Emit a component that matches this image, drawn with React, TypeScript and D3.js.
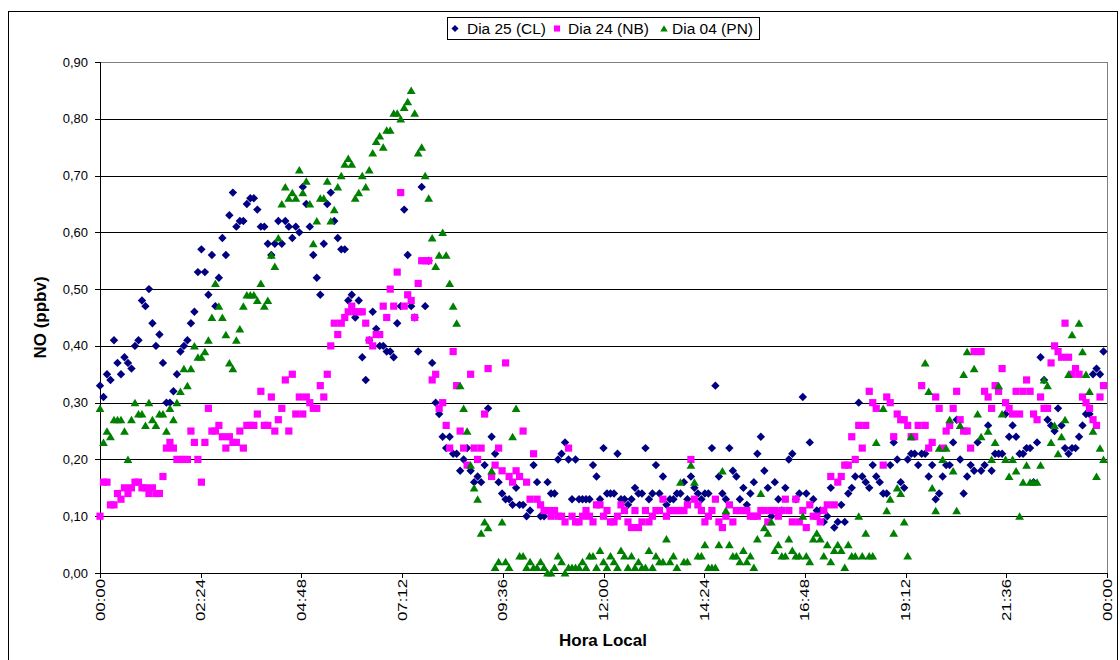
import React from 'react';
import * as d3 from 'd3';

// ---- data (NO, ppbv), one value every 5 minutes from 00:00 to 23:55 ----
const SAMPLE_MINUTES = 5;

const seriesNames = ['Dia 25 (CL)', 'Dia 24 (NB)', 'Dia 04 (PN)'];

const dia25CL: (number | null)[] = [
  0.33,0.31,0.35,0.34,0.41,0.37,0.35,0.38,0.37,0.36,0.40,0.41,
  0.48,0.47,0.50,0.44,0.40,0.42,0.37,0.30,0.30,0.32,0.35,0.39,
  0.40,0.41,0.44,0.46,0.53,0.57,0.53,0.49,0.56,0.47,0.52,0.59,
  0.56,0.63,0.67,0.61,0.62,0.62,0.65,0.66,0.66,0.64,0.61,0.61,
  0.58,0.56,0.58,0.62,0.58,0.62,0.61,0.59,0.61,0.60,0.68,0.65,
  0.61,0.56,0.52,0.49,0.58,0.65,0.67,0.62,0.59,0.57,0.57,0.48,
  0.49,0.45,0.48,0.38,0.34,0.41,0.46,0.43,0.40,0.40,0.39,0.39,
  0.38,0.44,0.47,0.64,0.56,0.47,0.45,0.39,0.68,0.47,0.55,0.37,
  0.30,0.28,0.24,0.22,0.24,0.21,0.21,0.18,0.20,0.22,0.18,0.16,
  0.17,0.16,0.19,0.29,0.24,0.21,0.16,0.14,0.13,0.13,0.12,0.15,
  0.12,0.12,0.10,0.11,0.19,0.16,0.10,0.10,0.16,0.14,0.14,0.20,
  0.21,0.23,0.20,0.13,0.20,0.13,0.13,0.13,0.13,0.19,0.17,0.13,
  0.22,0.14,0.14,0.14,0.21,0.13,0.13,0.12,0.13,0.15,0.14,0.14,
  0.22,0.13,0.14,0.19,0.14,0.17,0.12,0.13,0.13,0.14,0.14,0.16,
  0.13,0.17,0.15,0.14,0.13,0.14,0.14,0.22,0.33,0.17,0.14,0.13,
  0.22,0.18,0.17,0.13,0.15,0.12,0.14,0.16,0.21,0.24,0.18,0.15,
  0.10,0.16,0.13,0.11,0.15,0.20,0.21,0.13,0.14,0.31,0.14,0.23,
  0.13,0.11,0.11,0.09,0.10,0.15,0.08,0.09,0.12,0.09,0.14,0.15,
  0.17,0.30,0.17,0.16,0.15,0.19,0.17,0.16,0.14,0.14,0.19,0.23,
  0.20,0.16,0.15,0.20,0.21,0.21,0.19,0.21,0.21,0.17,0.19,0.13,
  0.14,0.17,0.19,0.19,0.23,0.27,0.20,0.14,0.17,0.19,0.18,0.23,
  0.18,0.19,0.26,0.18,0.21,0.21,0.21,0.28,0.24,0.26,0.24,0.21,
  0.21,0.22,0.22,0.16,0.23,0.38,0.34,0.27,0.26,0.25,0.29,0.26,
  0.22,0.21,0.22,0.22,0.24,0.26,0.28,0.28,0.35,0.36,0.35,0.39,
];

const dia24NB: (number | null)[] = [
  0.10,0.16,0.16,0.12,0.12,0.14,0.13,0.15,0.14,0.15,0.16,0.16,
  0.15,0.15,0.14,0.15,0.14,0.14,0.17,0.22,0.23,0.22,0.20,0.20,
  0.20,0.20,0.25,0.23,0.20,0.16,0.23,0.29,0.25,0.25,0.26,0.24,
  0.22,0.24,0.23,0.23,0.25,0.22,0.26,0.26,0.26,0.28,0.32,0.26,
  0.26,0.31,0.25,0.27,0.29,0.34,0.25,0.35,0.28,0.31,0.28,0.31,
  0.30,0.29,0.29,0.33,0.31,0.35,0.40,0.44,0.42,0.44,0.45,0.46,
  0.47,0.46,0.46,0.46,0.44,0.41,0.40,0.42,0.42,0.47,0.45,0.50,
  0.47,0.53,0.67,0.47,0.49,0.48,0.45,0.51,0.55,0.55,0.55,0.34,
  0.35,0.29,0.30,0.26,0.22,0.39,0.33,0.25,0.22,0.19,0.35,0.22,
  0.20,0.22,0.28,0.36,0.17,0.19,0.22,0.18,0.37,0.17,0.16,0.18,
  0.17,0.25,0.16,0.13,0.21,0.13,0.12,0.11,0.11,0.10,0.11,0.10,
  0.10,0.09,0.22,0.10,0.09,0.09,0.10,0.11,0.10,0.09,0.12,0.12,
  0.10,0.11,0.09,0.09,0.10,0.12,0.11,0.09,0.08,0.11,0.08,0.09,
  0.11,0.09,0.10,0.11,0.11,0.13,0.10,0.11,0.11,0.11,0.11,0.11,
  0.12,0.20,0.13,0.12,0.11,0.09,0.10,0.11,0.13,0.09,0.08,0.10,
  0.12,0.09,0.11,0.11,0.11,0.11,0.10,0.10,0.10,0.11,0.11,0.09,
  0.11,0.11,0.10,0.11,0.13,0.11,0.09,0.13,0.09,0.11,0.08,0.12,
  0.10,0.10,0.09,0.11,0.12,0.17,0.12,0.16,0.17,0.19,0.19,0.24,
  0.20,0.26,0.22,0.26,0.32,0.30,0.29,null,0.19,0.31,0.30,0.24,
  0.28,0.27,0.27,0.26,0.24,0.24,0.26,0.33,0.26,0.22,0.23,0.31,
  0.29,0.22,0.25,0.26,0.29,0.32,0.27,0.25,0.25,0.22,0.39,0.39,
  0.39,0.32,0.31,0.29,0.33,0.32,0.36,0.30,0.29,0.28,0.32,0.28,
  0.32,0.34,0.32,0.28,0.27,0.31,0.29,0.29,0.37,0.40,0.39,0.38,
  0.44,0.38,0.35,0.36,0.35,0.31,0.30,0.29,0.27,0.26,0.31,0.33,
];

const dia04PN: (number | null)[] = [
  0.29,0.23,0.25,0.24,0.27,0.27,0.27,0.25,0.20,0.27,0.30,0.28,
  0.28,0.26,0.30,0.27,0.26,0.28,0.28,0.25,0.29,0.27,0.30,0.32,
  0.36,0.33,0.36,0.40,0.38,0.38,0.39,0.41,0.45,0.51,0.47,0.45,
  0.42,0.37,0.36,0.41,0.43,0.47,0.49,0.49,0.49,0.48,0.51,0.47,
  0.48,0.56,0.54,0.59,0.65,0.68,0.66,0.67,0.66,0.71,0.67,0.69,
  0.65,0.58,0.62,0.66,0.66,0.69,0.62,0.64,0.68,0.70,0.72,0.73,
  0.72,0.66,0.67,0.70,0.68,0.71,0.74,0.76,0.77,0.75,0.78,0.78,
  0.81,0.81,0.80,0.82,0.83,0.85,0.81,0.74,0.75,0.70,0.66,0.59,
  0.54,0.56,0.60,0.56,0.51,0.47,0.44,0.33,0.29,0.25,0.19,0.15,
  0.13,0.07,0.09,0.08,0.18,0.01,0.02,0.09,0.02,0.01,0.24,0.29,
  0.03,0.03,0.01,0.02,0.01,0.01,0.02,0.01,0.00,0.00,0.01,0.03,
  0.02,0.00,0.01,0.01,0.01,0.01,0.02,0.01,0.03,0.03,0.01,0.04,
  0.02,0.01,0.03,0.02,0.01,0.04,0.03,0.01,0.03,0.01,0.02,0.01,
  0.01,0.04,0.01,0.03,0.02,0.02,0.06,0.02,0.03,0.01,0.16,0.02,
  0.02,0.19,0.16,0.03,0.03,0.05,0.01,0.01,0.01,0.05,0.18,0.11,
  0.05,0.03,0.03,0.02,0.04,0.02,0.03,0.01,0.06,0.14,0.08,0.07,
  0.09,0.04,0.05,0.03,0.03,0.06,0.04,0.03,0.03,0.10,0.03,0.02,
  0.06,0.07,0.06,0.03,0.05,0.02,0.04,0.05,0.04,0.01,0.05,0.03,
  0.03,0.10,0.03,0.07,0.03,0.03,0.23,null,0.29,0.11,0.13,0.07,
  0.15,0.14,0.09,0.03,0.24,null,null,null,0.37,0.32,0.15,0.11,
  0.22,0.20,0.22,0.27,0.18,0.11,0.26,0.35,0.39,null,0.36,0.28,
  0.24,null,0.25,0.20,0.23,0.33,0.28,0.20,0.17,0.20,0.18,0.10,
  0.16,0.19,0.16,0.16,0.16,0.19,0.34,0.33,0.23,0.26,0.21,0.24,
  0.27,0.35,0.42,null,0.44,0.39,0.35,0.32,0.25,0.17,0.22,0.20,
];

const xTickMinutes = [0, 144, 288, 432, 576, 720, 864, 1008, 1152, 1296, 1440];
const xTickLabels = ['00:00', '02:24', '04:48', '07:12', '09:36', '12:00', '14:24', '16:48', '19:12', '21:36', '00:00'];
const yTickValues = [0, 0.1, 0.2, 0.3, 0.4, 0.5, 0.6, 0.7, 0.8, 0.9];
const yTickLabels = ['0,00', '0,10', '0,20', '0,30', '0,40', '0,50', '0,60', '0,70', '0,80', '0,90'];

// ---- styling ----
const FONT = '"Liberation Sans", Arial, Helvetica, sans-serif';
const colors = ['#000080', '#FF00FF', '#008000'];
const markerPaths = [
  'M0,-4.2L4.2,0L0,4.2L-4.2,0Z',
  'M-3.6,-3.6H3.6V3.6H-3.6Z',
  'M0,-3.9L4.4,3.6L-4.4,3.6Z',
];

const W = 1120;
const H = 660;
const plot = { left: 100, right: 1107, top: 62, bottom: 573 };

export default function App() {
  const x = d3.scaleLinear().domain([0, 1440]).range([plot.left, plot.right]);
  const y = d3.scaleLinear().domain([0, 0.9]).range([plot.bottom, plot.top]);

  const allSeries = [dia25CL, dia24NB, dia04PN];

  const legendItems = [
    { marker: 455, text: 467, len: 79 },
    { marker: 557, text: 568, len: 81 },
    { marker: 664, text: 672, len: 81 },
  ];

  return (
    <svg
      width={W}
      height={H}
      style={{ position: 'absolute', left: 0, top: 0, display: 'block', background: '#fff' }}
      fontFamily={FONT}
    >
      <rect x={0} y={0} width={W} height={H} fill="#fff" />
      {/* chart border */}
      <rect x={8.5} y={11.5} width={1109} height={660} fill="none" stroke="#000" strokeWidth={1} />

      {/* gridlines */}
      {yTickValues.map((v, i) => (
        <line
          key={'g' + i}
          x1={plot.left}
          x2={plot.right}
          y1={Math.round(y(v)) + 0.5}
          y2={Math.round(y(v)) + 0.5}
          stroke={i === yTickValues.length - 1 ? '#808080' : '#000'}
          strokeWidth={1}
        />
      ))}
      {/* plot area right edge */}
      <line x1={plot.right + 0.5} x2={plot.right + 0.5} y1={plot.top} y2={plot.bottom} stroke="#808080" />

      {/* y axis */}
      <line x1={plot.left + 0.5} x2={plot.left + 0.5} y1={plot.top} y2={plot.bottom + 1} stroke="#000" />
      {yTickValues.map((v, i) => (
        <g key={'yt' + i}>
          <line x1={plot.left - 5} x2={plot.left} y1={Math.round(y(v)) + 0.5} y2={Math.round(y(v)) + 0.5} stroke="#000" />
          <text x={88} y={y(v) + 4.5} fontSize={13} textAnchor="end" fill="#000">
            {yTickLabels[i]}
          </text>
        </g>
      ))}

      {/* x axis */}
      <line x1={plot.left} x2={plot.right} y1={plot.bottom + 0.5} y2={plot.bottom + 0.5} stroke="#000" />
      {xTickMinutes.map((m, i) => (
        <g key={'xt' + i}>
          <line x1={Math.round(x(m)) + 0.5} x2={Math.round(x(m)) + 0.5} y1={plot.bottom} y2={plot.bottom + 5} stroke="#000" />
          <text
            transform={`translate(${x(m) + 4.5},${579}) rotate(-90)`}
            fontSize={13}
            textAnchor="end"
            fill="#000"
            textLength={42}
            lengthAdjust="spacingAndGlyphs"
          >
            {xTickLabels[i]}
          </text>
        </g>
      ))}

      {/* axis titles */}
      <text x={603} y={646} fontSize={17} fontWeight="bold" textAnchor="middle" fill="#000">
        Hora Local
      </text>
      <text
        transform={`translate(46,${(plot.top + plot.bottom) / 2}) rotate(-90)`}
        fontSize={17}
        fontWeight="bold"
        textAnchor="middle"
        fill="#000"
      >
        NO (ppbv)
      </text>

      {/* series */}
      {allSeries.map((vals, s) => (
        <g key={'s' + s} fill={colors[s]}>
          {vals.map((v, i) =>
            v === null ? null : (
              <path key={i} d={markerPaths[s]} transform={`translate(${x(i * SAMPLE_MINUTES)},${y(v)})`} />
            )
          )}
        </g>
      ))}

      {/* legend */}
      <rect x={447.5} y={17.5} width={312} height={22} fill="#fff" stroke="#000" />
      {legendItems.map((it, s) => (
        <g key={'l' + s}>
          <path d={markerPaths[s]} fill={colors[s]} transform={`translate(${it.marker},28.5) scale(0.85)`} />
          <text
            x={it.text}
            y={33.5}
            fontSize={14}
            fill="#000"
            textLength={it.len}
            lengthAdjust="spacingAndGlyphs"
          >
            {seriesNames[s]}
          </text>
        </g>
      ))}
    </svg>
  );
}
